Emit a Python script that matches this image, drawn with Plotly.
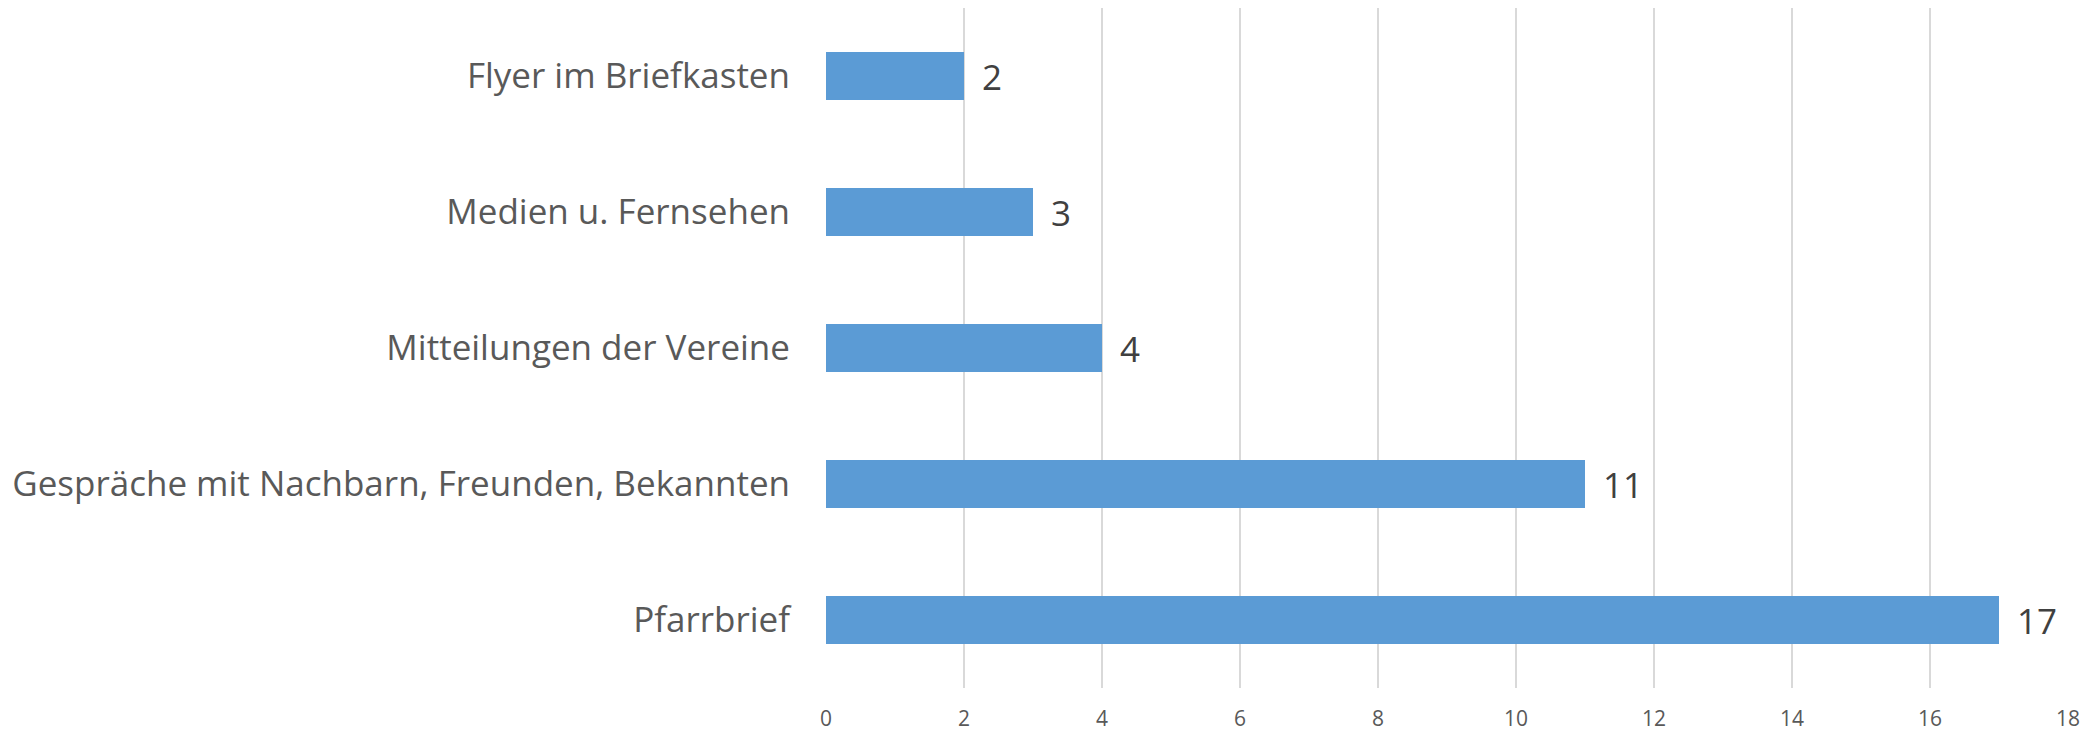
import plotly.graph_objects as go

categories = ["Pfarrbrief", "Gespräche mit Nachbarn, Freunden, Bekannten",
              "Mitteilungen der Vereine", "Medien u. Fernsehen", "Flyer im Briefkasten"]
values = [17, 11, 4, 3, 2]
tick_vals = [0, 2, 4, 6, 8, 10, 12, 14, 16, 18]

FONT = "Open Sans"

fig = go.Figure(go.Bar(
    x=values, y=categories, orientation="h",
    marker=dict(color="#5B9BD5", line=dict(width=0)),
    width=0.353,
    text=["\u00a0\u2009" + str(v) for v in values], textposition="outside",
    textfont=dict(size=35, color="#404040", family=FONT),
    cliponaxis=False,
))
fig.update_layout(
    width=2089, height=723,
    margin=dict(l=818, r=29, t=0, b=43, autoexpand=False),
    plot_bgcolor="white", paper_bgcolor="white",
    showlegend=False,
    xaxis=dict(range=[0, 18], tickvals=tick_vals, showgrid=True, gridcolor="#D9D9D9",
               gridwidth=2, zeroline=False, showline=False, automargin=False,
               ticklabelstandoff=16,
               tickfont=dict(size=21, color="#595959", family=FONT)),
    yaxis=dict(showgrid=False, zeroline=False, showline=False, ticks="",
               automargin=False, ticklabelstandoff=35,
               tickfont=dict(size=35, color="#595959", family=FONT)),
    font=dict(family=FONT),
)
fig.write_html("out.html")
